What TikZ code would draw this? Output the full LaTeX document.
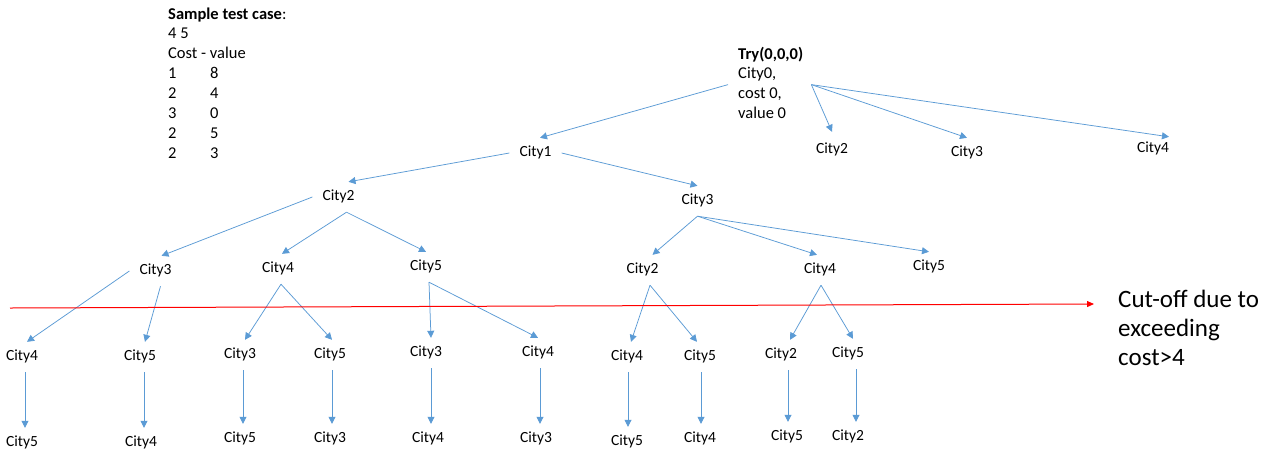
\documentclass[tikz,border=0pt]{standalone}
\usepackage{fontspec}
\setmainfont{Carlito}
\usetikzlibrary{arrows.meta,calc}
\definecolor{lb}{HTML}{5B9BD5}
\definecolor{cutred}{HTML}{FF0000}
\begin{document}
\begin{tikzpicture}[x=1pt,y=-1pt,
  city/.style={font=\fontsize{15.5}{18}\selectfont, inner sep=0pt, minimum height=30pt, text height=10pt, text depth=3.5pt},
  arr/.style={draw=lb, line width=0.75pt, -{Triangle[length=7pt,width=7pt]}},
  cutarr/.style={draw=cutred, line width=1pt, -{Triangle[length=7pt,width=6pt]}},
  txt/.style={inner sep=0pt, anchor=base west}
]
\fill[white] (0,0) rectangle (1279,459);
\useasboundingbox (0,0) rectangle (1279,459);

% sample test case block
\node[txt] (sample) at (168,19) {\fontsize{16.5}{19.9}\selectfont
\begin{tabular}[t]{@{}p{42pt}@{}l@{}}
\multicolumn{2}{@{}l@{}}{\textbf{Sample test case}:}\\
\multicolumn{2}{@{}l@{}}{4 5}\\
\multicolumn{2}{@{}l@{}}{Cost - value}\\
1 & 8\\
2 & 4\\
3 & 0\\
2 & 5\\
2 & 3
\end{tabular}};

% root
\node[txt] (root) at (738,59) {\fontsize{16.5}{19.7}\selectfont
\begin{tabular}[t]{@{}l@{}}
\textbf{Try(0,0,0)}\\
City0,\\
cost 0,\\
value 0
\end{tabular}};

% level 1
\node[city] (c1) at (535.5,153) {City1};
\node[city] (r2) at (832,150) {City2};
\node[city] (r3) at (967,153) {City3};
\node[city] (r4) at (1153,149) {City4};

% level 2
\node[city] (l2a) at (338.5,197) {City2};
\node[city] (l2b) at (697.5,201) {City3};

% level 3
\node[city] (a3) at (155.5,271) {City3};
\node[city] (a4) at (278,269) {City4};
\node[city] (a5) at (426,267) {City5};
\node[city] (b2) at (642.5,270) {City2};
\node[city] (b4) at (820,270) {City4};
\node[city] (b5) at (929,267) {City5};

% level 4
\node[city] (d1) at (22,357) {City4};
\node[city] (d2) at (140,357) {City5};
\node[city] (d3) at (240,355) {City3};
\node[city] (d4) at (330,355) {City5};
\node[city] (d5) at (426,353) {City3};
\node[city] (d6) at (538,353) {City4};
\node[city] (d7) at (627,357) {City4};
\node[city] (d8) at (700,357) {City5};
\node[city] (d9) at (781,355) {City2};
\node[city] (d10) at (848,354) {City5};

% level 5
\node[city] (e1) at (22,443) {City5};
\node[city] (e2) at (141,443) {City4};
\node[city] (e3) at (240,439) {City5};
\node[city] (e4) at (330,439) {City3};
\node[city] (e5) at (428,439) {City4};
\node[city] (e6) at (536,439) {City3};
\node[city] (e7) at (627,442) {City5};
\node[city] (e8) at (700,439) {City4};
\node[city] (e9) at (787,437) {City5};
\node[city] (e10) at (848,437) {City2};

% cut-off text
\node[txt] (cut) at (1118,307) {\fontsize{25}{29}\selectfont
\begin{tabular}[t]{@{}l@{}}
Cut-off due to\\
exceeding\\
cost>4
\end{tabular}};

% root arrows
\draw[arr] ([xshift=-10pt]root.west) -- ([xshift=4.5pt]c1.north);
\draw[arr] ([xshift=8pt]root.east) -- ([yshift=3pt]r2.north);
\draw[arr] ([xshift=8pt]root.east) -- (r3.north);
\draw[arr] ([xshift=8pt]root.east) -- ([xshift=16pt,yshift=-3pt]r4.north);

% City1
\draw[arr] ([xshift=-10pt]c1.west) -- ([xshift=10pt]l2a.north);
\draw[arr] ([xshift=10pt]c1.east) -- (l2b.north);

% level 2 City2
\draw[arr] ([xshift=-10pt]l2a.west) -- ([xshift=6pt]a3.north);
\draw[arr] ([xshift=8pt]l2a.south) -- ([xshift=4pt]a4.north);
\draw[arr] ([xshift=8pt]l2a.south) -- (a5.north);

% level 2 City3
\draw[arr] (l2b.south) -- ([xshift=10pt]b2.north);
\draw[arr] (l2b.south) -- ([xshift=-3pt]b4.north);
\draw[arr] (l2b.south) -- (b5.north);

% level 3 -> 4
\draw[arr] ([xshift=-10pt]a3.west) -- ([xshift=5pt]d1.north);
\draw[arr] ([xshift=5pt]a3.south) -- ([xshift=5pt]d2.north);
\draw[arr] ([xshift=3pt]a4.south) -- ([xshift=5pt]d3.north);
\draw[arr] ([xshift=3pt]a4.south) -- ([xshift=2pt]d4.north);
\draw[arr] ([xshift=3pt]a5.south) -- ([xshift=5pt]d5.north);
\draw[arr] ([xshift=3pt]a5.south) -- (d6.north);
\draw[arr] ([xshift=7.5pt]b2.south) -- ([xshift=4pt]d7.north);
\draw[arr] ([xshift=7.5pt]b2.south) -- ([xshift=-3pt]d8.north);
\draw[arr] ([xshift=1pt]b4.south) -- ([xshift=9pt]d9.north);
\draw[arr] ([xshift=1pt]b4.south) -- ([xshift=5pt]d10.north);

% level 4 -> 5
\draw[arr] ([xshift=3pt]d1.south) -- ([xshift=3pt]d1.south |- e1.north);
\draw[arr] ([xshift=4pt]d2.south) -- ([xshift=4pt]d2.south |- e2.north);
\draw[arr] ([xshift=3pt]d3.south) -- ([xshift=3pt]d3.south |- e3.north);
\draw[arr] ([xshift=2pt]d4.south) -- ([xshift=2pt]d4.south |- e4.north);
\draw[arr] ([xshift=5pt]d5.south) -- ([xshift=5pt]d5.south |- e5.north);
\draw[arr] ([xshift=2pt]d6.south) -- ([xshift=2pt]d6.south |- e6.north);
\draw[arr] ([xshift=1pt]d7.south) -- ([xshift=1pt]d7.south |- e7.north);
\draw[arr] ([xshift=1pt]d8.south) -- ([xshift=1pt]d8.south |- e8.north);
\draw[arr] ([xshift=7pt]d9.south) -- ([xshift=7pt]d9.south |- e9.north);
\draw[arr] ([xshift=8pt]d10.south) -- ([xshift=8pt]d10.south |- e10.north);

% cut-off line
\coordinate (cs) at (10,308);
\coordinate (ce) at (1094,304);
\draw[cutarr] (cs) -- (ce);
\end{tikzpicture}
\end{document}
